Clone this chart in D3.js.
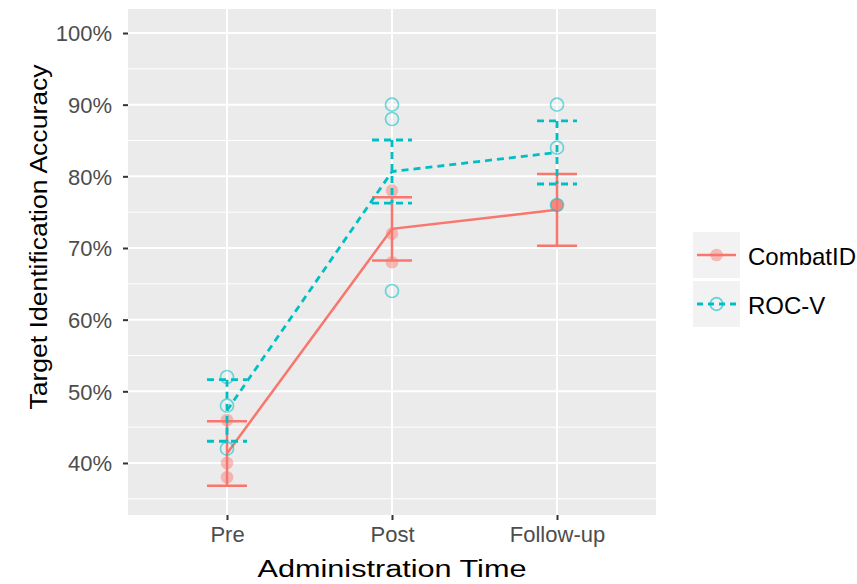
<!DOCTYPE html>
<html>
<head>
<meta charset="utf-8">
<script src="https://cdn.jsdelivr.net/npm/d3@7"></script>
<style>
  body { margin: 0; background: #fff; }
  text { font-family: "Liberation Sans", Arial, sans-serif; }
</style>
</head>
<body>
<div id="chart"></div>
<script>
// data
var times = ["Pre", "Post", "Follow-up"];
var groups = ["CombatID", "ROC-V"];
var combatMean = [41.33, 72.67, 75.33];
var combatErr = [4.5, 4.4, 5.0];
var combatPts = [[46, 40, 38], [78, 72, 68], [76, 76, 76]];
var rocMean = [47.33, 80.67, 83.33];
var rocErr = [4.3, 4.4, 4.4];
var rocPts = [[52, 48, 42], [90, 88, 64], [90, 84, 76]];
var yTicks = [40, 50, 60, 70, 80, 90, 100];
var yMinor = [35, 45, 55, 65, 75, 85, 95];

var red = "#F8766D", cyan = "#00BFC4";
var W = 857, H = 584;
var panel = {left: 128, right: 656, top: 9, bottom: 515};

var svg = d3.select("#chart").append("svg")
    .attr("width", W).attr("height", H);

var x = d3.scalePoint()
    .domain(times)
    .range([panel.left, panel.right])
    .padding(0.6);

var y = d3.scaleLinear()
    .domain([32.74, 103.35])
    .range([panel.bottom, panel.top]);

// panel
svg.append("rect")
    .attr("x", panel.left).attr("y", panel.top)
    .attr("width", panel.right - panel.left)
    .attr("height", panel.bottom - panel.top)
    .attr("fill", "#EBEBEB");

var grid = svg.append("g");
grid.selectAll(".minor")
    .data(yMinor).enter().append("line")
    .attr("x1", panel.left).attr("x2", panel.right)
    .attr("y1", d => y(d)).attr("y2", d => y(d))
    .attr("stroke", "#fff").attr("stroke-width", 1);
grid.selectAll(".major")
    .data(yTicks).enter().append("line")
    .attr("x1", panel.left).attr("x2", panel.right)
    .attr("y1", d => y(d)).attr("y2", d => y(d))
    .attr("stroke", "#fff").attr("stroke-width", 2);
grid.selectAll(".xmajor")
    .data(times).enter().append("line")
    .attr("x1", d => x(d)).attr("x2", d => x(d))
    .attr("y1", panel.top).attr("y2", panel.bottom)
    .attr("stroke", "#fff").attr("stroke-width", 2);

// axes
var yAxis = svg.append("g")
    .attr("transform", "translate(" + panel.left + ",0)")
    .call(d3.axisLeft(y).tickValues(yTicks).tickSize(5).tickPadding(11)
        .tickFormat(d => d + "%"));
var xAxis = svg.append("g")
    .attr("transform", "translate(0," + panel.bottom + ")")
    .call(d3.axisBottom(x).tickSize(5).tickPadding(6));
[yAxis, xAxis].forEach(function(a) {
    a.select(".domain").remove();
    a.selectAll(".tick line").attr("stroke", "#333").attr("stroke-width", 2);
    a.selectAll(".tick text").attr("fill", "#4D4D4D")
        .attr("font-size", 22)
        .attr("font-family", "Liberation Sans, Arial, sans-serif");
});
yAxis.selectAll(".tick text").attr("dy", "0.36em");

svg.append("text")
    .attr("x", (panel.left + panel.right) / 2).attr("y", 577)
    .attr("text-anchor", "middle")
    .attr("font-size", 23)
    .attr("textLength", 269).attr("lengthAdjust", "spacingAndGlyphs")
    .text("Administration Time");
svg.append("text")
    .attr("transform", "translate(47,237) rotate(-90)")
    .attr("text-anchor", "middle")
    .attr("font-size", 23)
    .attr("textLength", 345).attr("lengthAdjust", "spacingAndGlyphs")
    .text("Target Identification Accuracy");

function drawSeries(mean, err, pts, color, dashed, filled) {
    var g = svg.append("g");
    var dash = dashed ? "7,5" : null;
    var sw = dashed ? 2.8 : 2.5;
    // raw points
    var flat = [];
    pts.forEach(function(arr, i) { arr.forEach(v => flat.push([times[i], v])); });
    g.selectAll("circle").data(flat).enter().append("circle")
        .attr("cx", d => x(d[0])).attr("cy", d => y(d[1]))
        .attr("r", filled ? 6.3 : 6.5)
        .attr("fill", filled ? color : "none")
        .attr("fill-opacity", filled ? 0.45 : 0)
        .attr("stroke", filled ? "none" : color)
        .attr("stroke-opacity", 0.55)
        .attr("stroke-width", 1.7);
    // error bars
    var eb = g.selectAll(".eb").data(times).enter().append("g");
    eb.append("line")
        .attr("x1", d => x(d)).attr("x2", d => x(d))
        .attr("y1", (d, i) => y(mean[i] + err[i])).attr("y2", (d, i) => y(mean[i] - err[i]))
        .attr("stroke", color).attr("stroke-width", sw).attr("stroke-dasharray", dash);
    [1, -1].forEach(function(s) {
        eb.append("line")
            .attr("x1", d => x(d) - 20).attr("x2", d => x(d) + 20)
            .attr("y1", (d, i) => y(mean[i] + s * err[i]))
            .attr("y2", (d, i) => y(mean[i] + s * err[i]))
            .attr("stroke", color).attr("stroke-width", sw).attr("stroke-dasharray", dash);
    });
    // mean line
    g.append("path")
        .datum(times)
        .attr("d", d3.line().x(d => x(d)).y((d, i) => y(mean[i])))
        .attr("fill", "none")
        .attr("stroke", color).attr("stroke-width", sw).attr("stroke-dasharray", dash);
}

drawSeries(combatMean, combatErr, combatPts, red, false, true);
drawSeries(rocMean, rocErr, rocPts, cyan, true, false);

// legend
var legend = svg.append("g").attr("transform", "translate(693,232)");
groups.forEach(function(name, i) {
    var row = legend.append("g").attr("transform", "translate(0," + (i * 49) + ")");
    var filled = i === 0, color = filled ? red : cyan;
    row.append("rect").attr("width", 47).attr("height", 46).attr("fill", "#F2F2F2");
    row.append("line").attr("x1", 4).attr("x2", 43).attr("y1", 23).attr("y2", 23)
        .attr("stroke", color).attr("stroke-width", filled ? 2.5 : 2.8)
        .attr("stroke-dasharray", filled ? null : "6,5");
    row.append("circle").attr("cx", 23.5).attr("cy", 23).attr("r", 6.3)
        .attr("fill", filled ? color : "none").attr("fill-opacity", 0.45)
        .attr("stroke", filled ? "none" : color).attr("stroke-opacity", 0.6)
        .attr("stroke-width", 1.7);
    row.append("text").attr("x", 55).attr("y", 33)
        .attr("font-size", 24).text(name);
});
</script>
</body>
</html>
